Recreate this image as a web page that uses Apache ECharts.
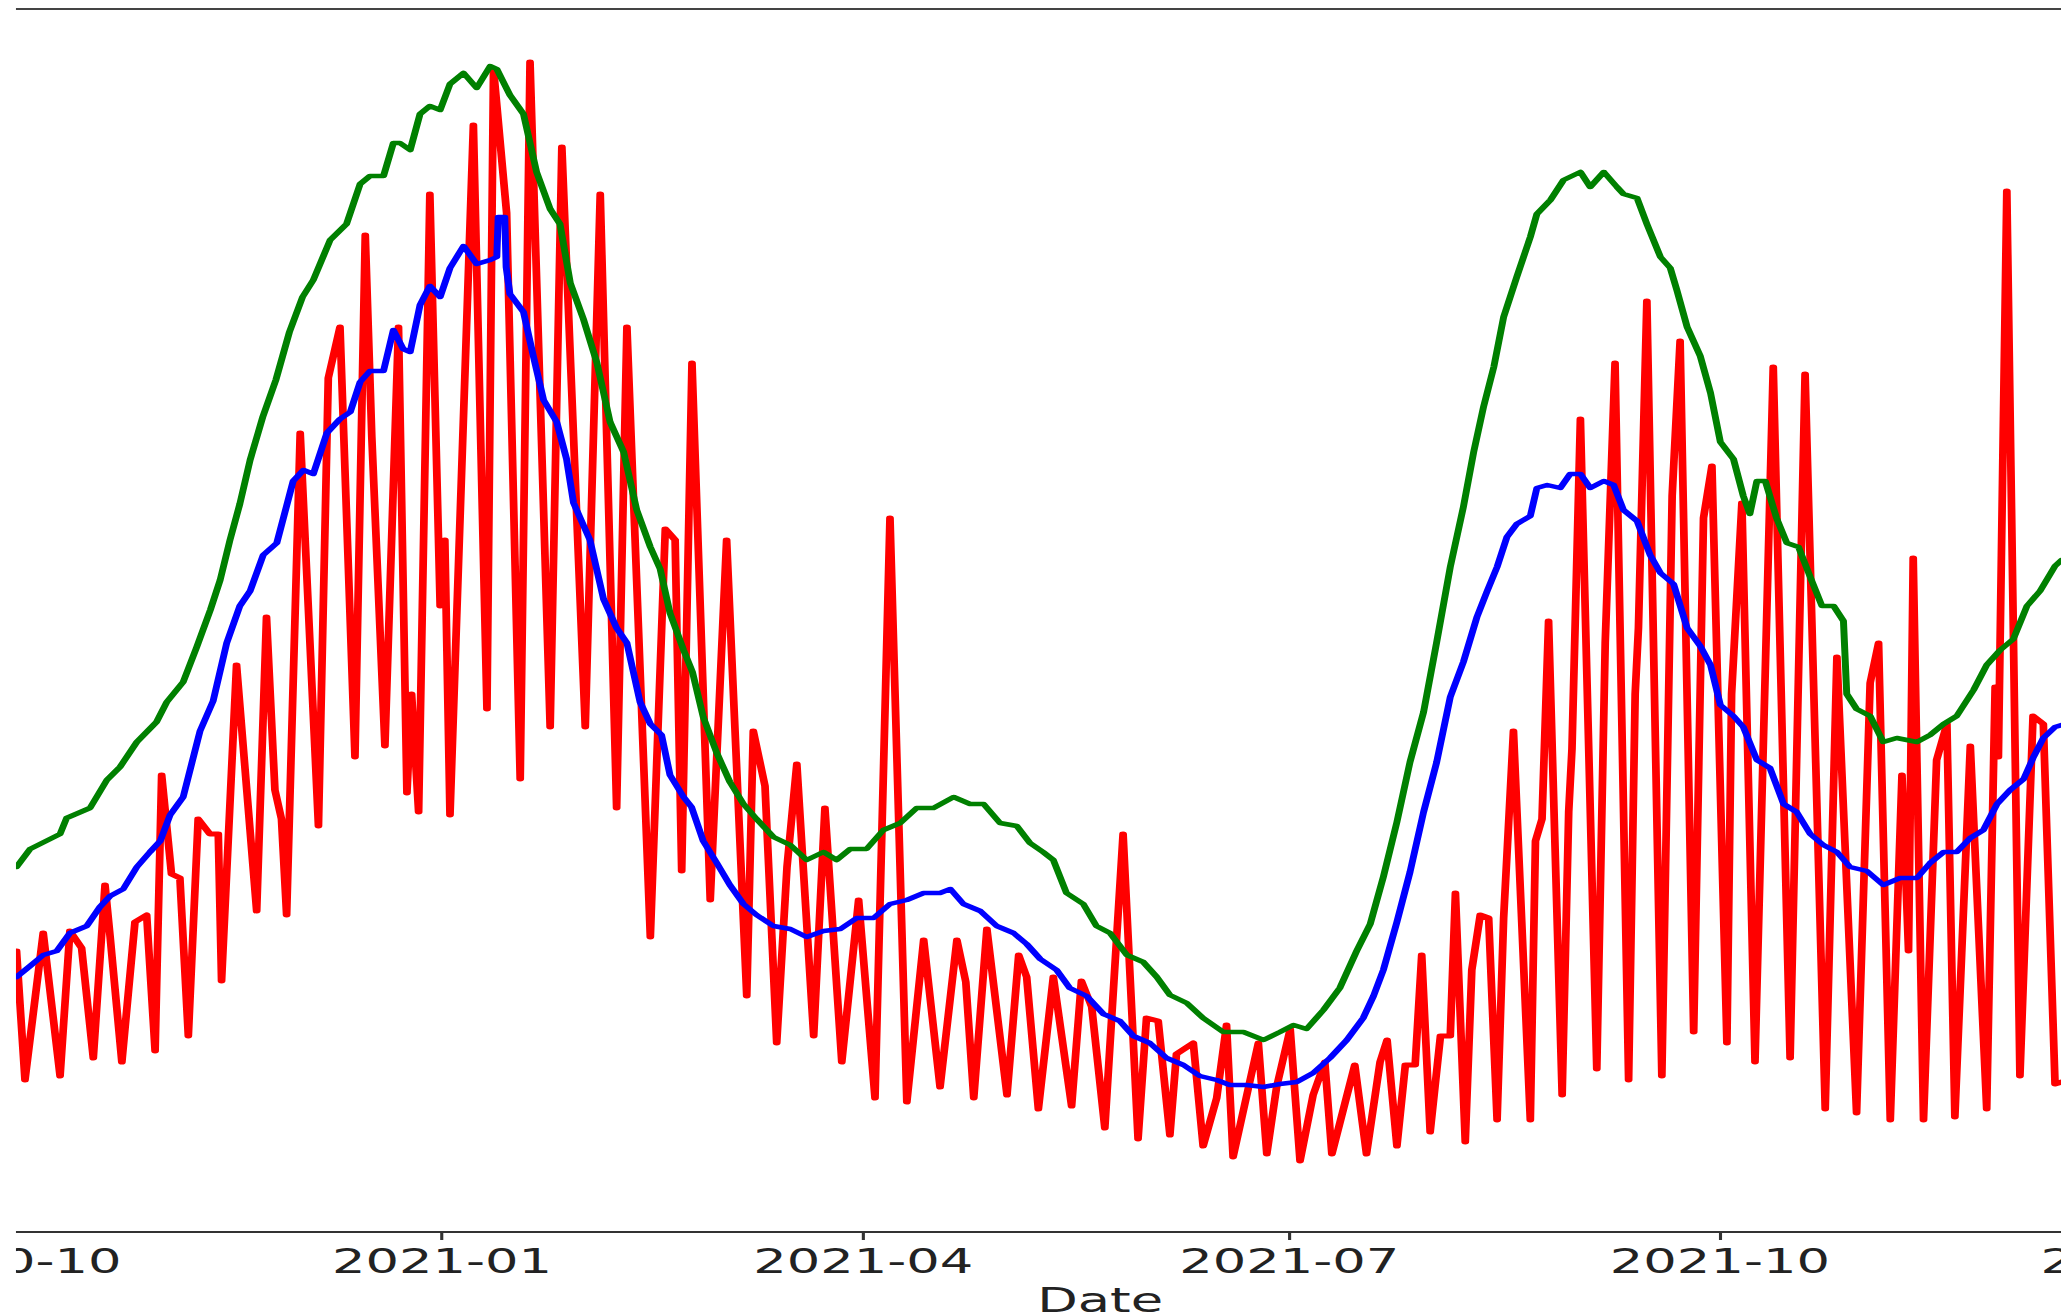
<!DOCTYPE html>
<html>
<head>
<meta charset="utf-8">
<script src="https://cdn.jsdelivr.net/npm/echarts@6/dist/echarts.min.js"></script>
<style>
html,body{margin:0;padding:0;background:#fff;overflow:hidden}
#wrap{width:2061px;height:1315px;overflow:hidden;position:relative;background:#fff}
#chart{width:1329.7px;height:1315px;transform:scaleX(1.55);transform-origin:0 0}
</style>
</head>
<body>
<div id="wrap"><div id="chart"></div></div>
<script>
// Day offsets are counted from 2020-10-01; values are in arbitrary chart units.
const startDate = '2020-10-01';
const tickLabels = ['2020-10', '2021-01', '2021-04', '2021-07', '2021-10', '2022-01'];
const axisName = 'Date';

const redPts = [
 [1.1,281],[2.9,152],[6.8,299],[10.4,156],[12.5,301],[15.0,284],[17.5,174],[20.0,347],[21.1,295],[23.6,170],
 [26.4,310],[28.9,317],[30.7,181],[32.1,457],[34.2,358],[36.0,354],[37.8,196],[39.9,413],[42.4,398],[44.2,398],
 [44.9,251],[48.1,567],[52.4,321],[54.5,615],[56.3,442],[57.7,413],[58.8,317],[61.7,799],[65.6,406],[67.7,854],
 [70.2,905],[73.4,475],[75.6,997],[77.0,795],[79.8,486],[82.7,905],[84.5,439],[85.5,538],[87.0,420],[89.4,1038],
 [91.6,626],[92.6,692],[93.7,417],[98.7,1107],[101.6,523],[103.0,1163],[105.8,1019],[108.7,453],[110.8,1170],[115.1,505],
 [117.6,1085],[122.6,505],[125.8,1038],[129.3,424],[131.5,905],[136.5,295],[139.7,703],[141.8,692],[143.2,361],[145.4,869],
 [149.3,332],[152.8,692],[157.1,236],[158.5,501],[161.0,446],[163.5,189],[165.7,365],[167.8,468],[171.4,196],[173.8,424],
 [177.4,170],[181.0,332],[184.5,134],[187.7,714],[191.3,130],[194.9,292],[198.4,145],[202.0,292],[203.9,250],[205.6,134],
 [208.4,303],[212.7,137],[215.2,277],[216.9,255],[219.4,123],[222.6,255],[226.5,126],[228.6,251],[230.8,225],[233.6,104],
 [237.5,398],[240.7,93],[242.5,214],[245.0,211],[247.5,97],[248.9,178],[252.5,189],[254.6,86],[257.5,134],[259.6,207],
 [261.0,75],[266.4,189],[268.2,78],[270.3,145],[273.2,203],[275.3,71],[278.1,137],[280.6,170],[282.1,78],[287.0,167],
 [289.5,78],[292.4,170],[293.9,192],[296.0,86],[297.8,167],[299.9,167],[301.3,277],[303.1,100],[305.3,196],[307.4,196],
 [308.5,339],[310.6,90],[312.0,262],[313.8,317],[315.6,314],[317.4,112],[318.8,314],[320.9,501],[324.5,112],[325.6,391],
 [327.0,413],[328.4,611],[331.3,137],[332.7,420],[333.4,483],[335.2,813],[338.7,163],[340.5,589],[342.6,869],[345.5,152],
 [346.9,538],[347.6,604],[349.4,931],[352.6,156],[354.8,736],[356.5,891],[359.4,200],[361.5,714],[363.3,766],[366.5,189],
 [367.5,538],[369.7,729],[372.5,170],[376.4,865],[380.0,174],[383.2,858],[387.5,123],[390.0,575],[394.2,119],[397.1,549],
 [398.9,589],[401.4,112],[403.9,457],[405.3,281],[406.3,674],[408.5,112],[411.3,472],[413.5,508],[415.2,115],[418.5,486],
 [422.0,123],[423.8,545],[424.5,475],[426.3,1041],[429.1,156],[431.9,516],[434.1,508],[436.6,148],[438.0,150]
];

const greenPts = [
 [1.1,365],[4.0,383],[10.4,398],[11.8,414],[16.8,424],[20.4,452],[23.2,465],[26.8,490],[31.0,510],[33.2,530],
 [36.7,550],[39.6,585],[42.5,622],[44.6,652],[46.7,692],[48.8,728],[51.0,772],[53.7,815],[56.5,852],[59.4,900],
 [62.2,935],[64.5,952],[68.1,992],[71.6,1008],[74.5,1048],[76.6,1056],[79.5,1056],[81.6,1089],[83.0,1089],[85.2,1082],
 [87.3,1118],[89.4,1126],[91.6,1122],[93.7,1148],[96.6,1159],[99.4,1144],[102.3,1166],[103.7,1163],[106.5,1137],[109.4,1118],
 [112.2,1060],[115.1,1023],[117.2,1008],[119.4,949],[122.2,913],[125.1,869],[127.9,810],[130.8,780],[133.6,722],[136.5,685],
 [138.6,663],[140.7,619],[143.6,582],[145.5,560],[147.8,515],[150.7,479],[153.5,450],[156.4,428],[159.2,413],[162.8,395],
 [166.4,387],[169.9,372],[173.5,380],[176.3,372],[179.2,383],[182.7,383],[186.3,402],[189.9,409],[193.4,424],[197.0,424],
 [201.3,435],[204.8,428],[207.7,428],[211.2,409],[214.8,406],[217.6,389],[220.4,380],[222.6,372],[225.4,339],[229.0,328],
 [231.8,306],[234.7,299],[238.3,277],[241.8,270],[244.7,255],[247.5,237],[251.1,229],[254.6,214],[258.9,200],[263.2,200],
 [267.5,192],[271.0,200],[273.9,207],[276.7,203],[280.3,222],[283.8,244],[287.4,281],[290.3,308],[293.1,355],[296.0,410],
 [298.8,470],[301.7,520],[304.5,590],[307.4,665],[310.2,725],[312.4,780],[314.5,825],[316.7,865],[318.8,915],[321.6,955],
 [324.5,995],[325.9,1018],[328.8,1032],[331.6,1052],[335.2,1060],[337.3,1045],[340.2,1060],[343.0,1045],[344.4,1038],[347.3,1034],
 [349.4,1008],[352.3,975],[354.4,964],[355.8,942],[358.0,905],[360.8,876],[363.0,839],[365.1,790],[367.9,773],[370.0,736],
 [371.4,718],[372.9,751],[374.7,751],[377.1,714],[379.3,689],[381.8,685],[384.3,655],[386.8,626],[389.3,626],[391.4,611],
 [392.1,538],[394.2,523],[397.1,516],[399.9,490],[402.8,494],[407.1,490],[409.9,497],[412.8,508],[415.6,516],[419.2,542],
 [422.0,567],[424.9,582],[427.7,593],[430.6,626],[433.4,641],[436.6,666],[438.0,672]
];

const bluePts = [
 [1.1,255],[4.0,266],[6.8,277],[9.7,281],[12.5,299],[16.1,306],[18.9,325],[21.1,336],[23.9,343],[26.8,365],
 [29.6,380],[31.8,391],[33.9,417],[36.7,435],[40.3,501],[43.1,531],[46.0,589],[48.8,626],[51.0,641],[53.8,677],
 [56.7,689],[60.2,751],[62.4,762],[64.5,758],[67.4,799],[70.2,813],[72.4,820],[74.5,850],[76.6,861],[79.5,861],
 [81.6,902],[83.7,883],[85.2,880],[87.3,927],[89.4,946],[91.6,935],[93.7,964],[96.6,986],[99.4,968],[102.3,972],
 [103.7,975],[104.0,1015],[105.4,1015],[105.7,965],[106.5,938],[109.4,920],[111.5,876],[113.7,832],[116.5,810],[118.6,773],
 [120.1,729],[123.6,692],[126.5,633],[129.3,604],[131.5,589],[134.3,530],[136.5,508],[138.9,497],[140.7,457],[143.6,435],
 [145.3,425],[147.8,391],[150.7,369],[153.5,347],[156.4,328],[159.2,317],[162.8,306],[166.4,303],[169.9,295],[173.5,301],
 [177.1,303],[180.6,314],[184.2,314],[187.7,328],[191.3,332],[194.9,339],[198.4,339],[200.6,343],[203.4,328],[207.0,321],
 [210.5,306],[214.1,299],[216.9,288],[219.8,273],[223.3,262],[226.1,244],[229.7,236],[233.3,218],[236.8,211],[239.7,196],
 [243.2,189],[246.8,174],[250.4,167],[253.9,156],[257.5,152],[260.3,147],[263.9,147],[267.5,145],[271.0,148],[274.6,150],
 [278.1,159],[281.7,174],[285.3,192],[288.8,214],[291.0,236],[293.1,262],[296.0,310],[298.8,360],[301.7,420],[304.5,470],
 [307.4,535],[310.2,570],[313.1,615],[315.2,640],[317.4,665],[319.5,695],[321.6,708],[324.5,716],[325.9,744],[328.1,747],
 [330.9,744],[333.0,758],[335.2,758],[337.3,744],[340.2,751],[342.3,747],[344.4,722],[347.3,711],[350.1,677],[352.3,659],
 [355.1,648],[358.0,604],[360.8,586],[363.0,567],[365.1,527],[367.9,516],[370.0,505],[372.9,472],[375.7,464],[378.6,428],
 [381.4,420],[384.3,398],[387.1,387],[390.0,380],[392.8,365],[396.4,361],[399.9,347],[403.5,354],[407.1,354],[409.9,369],
 [412.8,380],[415.6,380],[418.5,394],[421.3,402],[424.2,428],[427.0,442],[429.9,453],[432.0,475],[434.1,494],[436.6,505],
 [438.0,507]
];

const DAY = 86400000;
const [sy, sm, sd] = startDate.split('-').map(Number);
const START = Date.UTC(sy, sm - 1, sd);
const toXY = pts => pts.map(p => [START + p[0] * DAY, p[1]]);
const tickValues = tickLabels.map(s => { const [y, m] = s.split('-').map(Number); return Date.UTC(y, m - 1, 1); });
const fmt = v => { const d = new Date(v); return d.getUTCFullYear() + '-' + String(d.getUTCMonth() + 1).padStart(2, '0'); };

const chart = echarts.init(document.getElementById('chart'), null, { renderer: 'svg' });
const lineSeries = (data, color, width) => ({
  type: 'line', data: toXY(data), showSymbol: false, symbol: 'none', silent: true,
  lineStyle: { color: color, width: width, join: 'round', cap: 'round' }, itemStyle: { color: color }
});
chart.setOption({
  animation: false,
  backgroundColor: '#ffffff',
  grid: { left: 7.35, right: -82.2, top: 9, bottom: 83, show: true, borderColor: '#444', borderWidth: 2,
          backgroundColor: 'transparent', containLabel: false, outerBoundsMode: 'none' },
  xAxis: {
    type: 'value', min: START, max: START + 465.2 * DAY, scale: true,
    name: axisName, nameLocation: 'middle', nameGap: 50,
    nameTextStyle: { fontFamily: 'DejaVu Sans', fontSize: 34, color: '#222' },
    axisLine: { show: true, lineStyle: { color: '#333', width: 2 } },
    axisTick: { show: true, length: 8, lineStyle: { color: '#333', width: 2 }, customValues: tickValues },
    axisLabel: { customValues: tickValues, formatter: fmt, fontFamily: 'DejaVu Sans', fontSize: 34,
                 color: '#222', margin: 12, showMinLabel: true, showMaxLabel: true, hideOverlap: false },
    splitLine: { show: false }
  },
  yAxis: { type: 'value', min: 0, max: 1223, show: false, splitLine: { show: false } },
  graphic: [{ type: 'rect', x: 0, y: 0, shape: { x: 0, y: 0, width: 10.3, height: 1315 },
              style: { fill: '#ffffff' }, z: 100, silent: true }],
  series: [
    lineSeries(redPts, '#ff0000', 5),
    lineSeries(greenPts, '#008000', 4.5),
    lineSeries(bluePts, '#0000ff', 4.5)
  ]
});
</script>
</body>
</html>
